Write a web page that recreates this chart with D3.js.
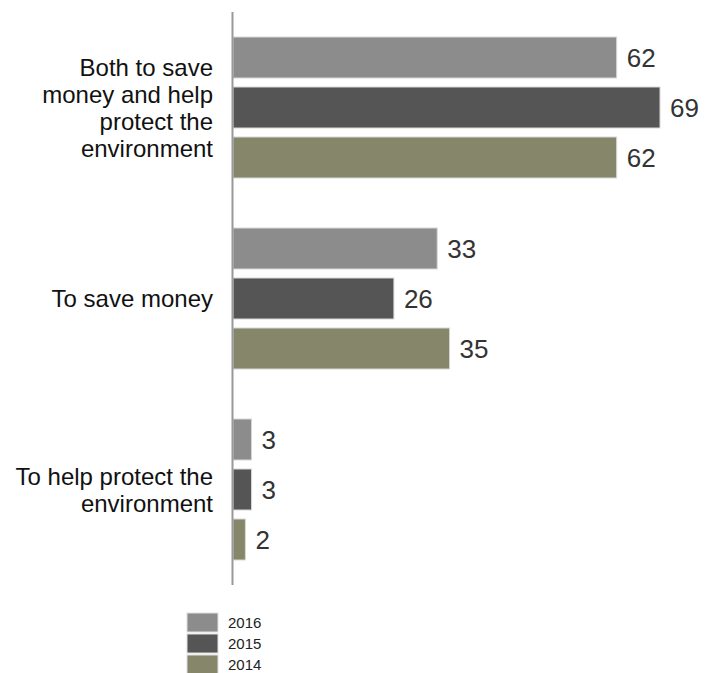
<!DOCTYPE html>
<html>
<head>
<meta charset="utf-8">
<script src="https://cdn.jsdelivr.net/npm/d3@7"></script>
<style>
  body { margin: 0; background: #fff; }
  text { font-family: "Liberation Sans", Arial, sans-serif; }
</style>
</head>
<body>
<div id="chart"></div>
<script>
// data
var categories = ["Both to save money and help protect the environment", "To save money", "To help protect the environment"];
var categoryLines = [["Both to save", "money and help", "protect the", "environment"], ["To save money"], ["To help protect the", "environment"]];
var series = ["2016", "2015", "2014"];
var values2016 = [62, 33, 3];
var values2015 = [69, 26, 3];
var values2014 = [62, 35, 2];
var colors = ["#8c8c8c", "#555555", "#86866b"];

var allValues = [values2016, values2015, values2014];

var width = 705, height = 673;

var svg = d3.select("#chart")
    .append("svg")
        .attr("width", width)
        .attr("height", height);

// y scale for groups
var y0 = d3.scaleBand()
    .domain(categories)
    .range([12, 585]);

// y scale inside a group
var y1 = d3.scaleBand()
    .domain(series)
    .range([25, 166])
    .paddingInner(0.18);

// x scale
var x = d3.scaleLinear()
    .domain([0, 69])
    .range([233, 660]);

var rows = [];
categories.forEach(function(c, i){
    series.forEach(function(s, j){
        rows.push({cat: c, series: s, value: allValues[j][i], color: colors[j]});
    });
});

// bars
svg.selectAll("rect.bar")
    .data(rows)
    .enter()
    .append("rect")
        .attr("class", "bar")
        .attr("x", x(0))
        .attr("y", function(d){ return y0(d.cat) + y1(d.series); })
        .attr("width", function(d){ return x(d.value) - x(0); })
        .attr("height", y1.bandwidth())
        .attr("fill", function(d){ return d.color; })
        .attr("stroke", "#d8d8d8")
        .attr("stroke-width", 1);

// value labels
svg.selectAll("text.value")
    .data(rows)
    .enter()
    .append("text")
        .attr("class", "value")
        .attr("x", function(d){ return x(d.value) + 10; })
        .attr("y", function(d){ return y0(d.cat) + y1(d.series) + y1.bandwidth() / 2; })
        .attr("dy", "0.36em")
        .attr("font-size", "26px")
        .attr("fill", "#333")
        .text(function(d){ return d.value; });

// axis line
svg.append("line")
    .attr("x1", 232.5).attr("x2", 232.5)
    .attr("y1", y0.range()[0]).attr("y2", y0.range()[1])
    .attr("stroke", "#999")
    .attr("stroke-width", 2);

// category labels
var lineH = 27;
categories.forEach(function(c, i){
    var lines = categoryLines[i];
    var cy = y0(c) + y0.bandwidth() / 2;
    var t = svg.append("text")
        .attr("x", 213)
        .attr("text-anchor", "end")
        .attr("font-size", "24px")
        .attr("fill", "#111");
    lines.forEach(function(l, k){
        t.append("tspan")
            .attr("x", 213)
            .attr("y", cy + (k - (lines.length - 1) / 2) * lineH)
            .attr("dy", "0.36em")
            .text(l);
    });
});

// legend
var legend = svg.append("g")
    .attr("transform", "translate(187,613)");

legend.selectAll("rect")
    .data(series)
    .enter()
    .append("rect")
        .attr("x", 0)
        .attr("y", function(d, i){ return i * 21; })
        .attr("width", 31)
        .attr("height", 19)
        .attr("fill", function(d, i){ return colors[i]; })
        .attr("stroke", "#e0e0e0");

legend.selectAll("text")
    .data(series)
    .enter()
    .append("text")
        .attr("x", 41)
        .attr("y", function(d, i){ return i * 21 + 10; })
        .attr("dy", "0.36em")
        .attr("font-size", "15px")
        .attr("fill", "#222")
        .text(function(d){ return d; });
</script>
</body>
</html>
